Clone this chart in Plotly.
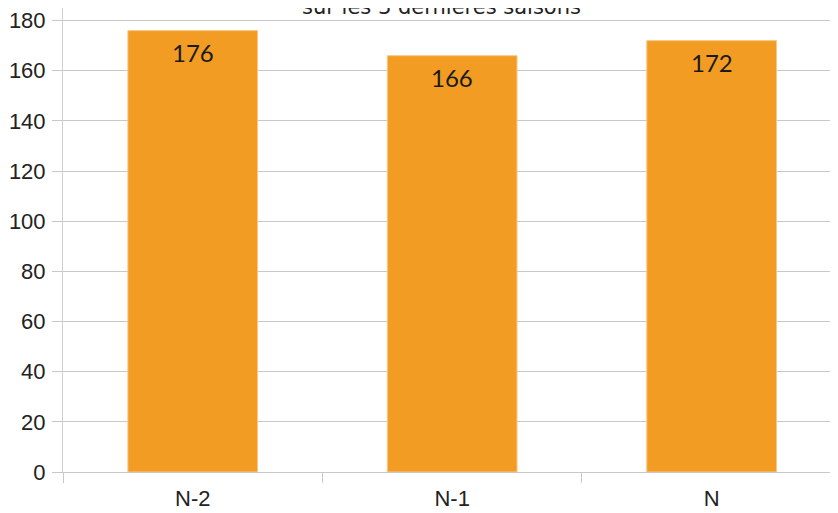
import plotly.graph_objects as go

categories = ["N-2", "N-1", "N"]
values = [176, 166, 172]
y_ticks = [0, 20, 40, 60, 80, 100, 120, 140, 160, 180]
title_text = "sur les 3 dernières saisons"

fig = go.Figure()
fig.add_trace(go.Bar(
    x=categories, y=values,
    marker=dict(color="#F39C23", line=dict(color="#F8C98A", width=1)),
    width=0.5,
    hoverinfo="x+y",
))

label_annotations = [
    dict(
        x=c, y=v, xref="x", yref="y", text=str(v), showarrow=False,
        xanchor="center", yanchor="top", yshift=-5,
        font=dict(family="Lato, DejaVu Sans", size=24, color="#1a1a1a"),
    )
    for c, v in zip(categories, values)
]

fig.update_layout(
    width=838, height=513,
    margin=dict(l=55, r=8, t=0, b=49),
    paper_bgcolor="white", plot_bgcolor="white",
    showlegend=False,
    xaxis=dict(
        range=[-0.5, 2.487],
        showgrid=False,
        showline=True, linecolor="#c8c8c8", linewidth=1,
        ticks="outside", ticklen=10, tickcolor="#c8c8c8",
        tickson="boundaries",
        ticklabelstandoff=7,
        tickfont=dict(family="Liberation Sans, Arial", size=22, color="#222"),
    ),
    yaxis=dict(
        range=[0, 185],
        tickvals=y_ticks,
        showgrid=True, gridcolor="#c8c8c8", gridwidth=1,
        showline=True, linecolor="#d0d0d0", linewidth=1,
        ticks="outside", ticklen=10, tickcolor="#c8c8c8",
        ticklabelstandoff=2,
        tickfont=dict(family="Liberation Sans, Arial", size=22, color="#222"),
        zeroline=False,
    ),
    annotations=label_annotations + [dict(
        text=title_text, xref="paper", yref="paper", x=0.488, y=1,
        xanchor="center", yanchor="bottom", yshift=-13, showarrow=False,
        font=dict(family="DejaVu Sans", size=21, color="#222"),
    )],
)

fig.write_html("out.html")
